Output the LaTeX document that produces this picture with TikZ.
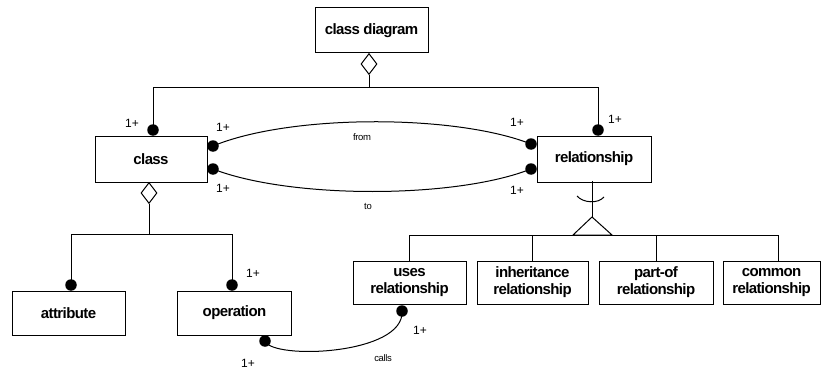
\documentclass[tikz,border=0pt]{standalone}
\usepackage{fontspec}
\setmainfont{Liberation Sans}
\newfontfamily\bxfamily[LetterSpace=-4]{Liberation Sans}
\usetikzlibrary{shapes.geometric}

\tikzset{
  box/.style={draw, fill=white, align=center, inner sep=0pt,
    font=\bxfamily\bfseries\fontsize{15}{17}\selectfont},
  enddot/.style={circle, fill=black, inner sep=0pt, minimum size=11.5pt},
  agg/.style={diamond, draw, fill=white, inner sep=0pt,
    minimum width=16pt, minimum height=21pt},
  mult/.style={inner sep=0pt, font=\fontsize{12}{12}\selectfont},
  role/.style={inner sep=0pt, font=\bxfamily\fontsize{9.5}{10}\selectfont},
  conn/.style={line width=1pt},
}

\begin{document}
\begin{tikzpicture}[x=1pt, y=-1pt, line width=1pt]
\useasboundingbox (0,0) rectangle (825,369);

% classes
\node[box, minimum width=113pt, minimum height=45pt] (cd) at (371.5,30.5) {class diagram};
\node[box, minimum width=112pt, minimum height=46pt] (cls) at (151,159) {class};
\node[box, minimum width=114pt, minimum height=46pt] (rel) at (594,159) {relationship};
\node[box, minimum width=113pt, minimum height=44pt] (attr) at (68.5,313) {attribute};
\node[box, minimum width=114pt, minimum height=44pt] (oper) at (234.5,313) {operation};
\node[box, minimum width=113pt, minimum height=43pt] (uses) at (409.5,282.5) {uses\\relationship};
\node[box, minimum width=111pt, minimum height=43pt] (inh) at (532.5,282.5) {inheritance\\relationship};
\node[box, minimum width=114pt, minimum height=43pt] (part) at (656,282.5) {part-of\\relationship};
\node[box, minimum width=97pt, minimum height=43pt] (comm) at (771.5,282.5) {common\\relationship};

% class diagram aggregates class and relationship
\node[agg, anchor=north] (cdd) at (369,53) {};
\coordinate (cdj) at (369,88);
\draw[conn] (cdd.south) -- (cdj);
\draw[conn] (cdj) -| (153,130);
\draw[conn] (cdj) -| (598,130);
\node[enddot] (ctop) at (153,130) {};
\node[enddot] (rtop) at (598,130) {};

% class aggregates attribute and operation
\node[agg, anchor=north] (cld) at (149,182) {};
\coordinate (clj) at (149,234);
\draw[conn] (cld.south) -- (clj);
\draw[conn] (clj) -| (71,285);
\draw[conn] (clj) -| (232,285);
\node[enddot] (atop) at (71,285) {};
\node[enddot] (otop) at (232,285) {};

% from / to associations
\node[enddot] (cr1) at (213,146) {};
\node[enddot] (cr2) at (213,169) {};
\node[enddot] (rl1) at (531,144) {};
\node[enddot] (rl2) at (531,169) {};
\draw[conn] (cr1.center) .. controls (290,114) and (455,114) .. (rl1.center);
\draw[conn] (cr2.center) .. controls (290,199) and (455,199) .. (rl2.center);

% generalisation of relationship
\coordinate (apex) at (592,217);
\coordinate (gl) at (573,235);
\coordinate (gr) at (612,235);
\draw[conn] (592,181) -- (apex);
\draw[conn] (apex) -- (gl) -- (gr) -- cycle;
\draw[conn] (577,196) .. controls (583,203) and (598,204) .. (604,197);
\draw[conn] (uses.north |- gl) -- (778,235);
\draw[conn] (uses.north |- gl) -- (uses.north);
\draw[conn] (inh.north |- gl) -- (inh.north);
\draw[conn] (part.north |- gl) -- (part.north);
\draw[conn] (778,235) -- (778,261);

% calls association
\node[enddot] (obot) at (265,341) {};
\node[enddot] (ubot) at (402,311) {};
\draw[conn] (obot.center) .. controls (272,360) and (405,355) .. (ubot.center);

% multiplicities and role names
\node[mult] (m1) at (132,123) {1+};
\node[mult] (m2) at (223,127) {1+};
\node[mult] (m3) at (223,188) {1+};
\node[mult] (m4) at (517,122) {1+};
\node[mult] (m5) at (517,190) {1+};
\node[mult] (m6) at (615,119) {1+};
\node[mult] (m7) at (253,273) {1+};
\node[mult] (m8) at (248,363) {1+};
\node[mult] (m9) at (420,330) {1+};
\node[role] (rfrom) at (362,137) {from};
\node[role] (rto) at (368,206) {to};
\node[role] (rcalls) at (383,358) {calls};
\end{tikzpicture}
\end{document}
